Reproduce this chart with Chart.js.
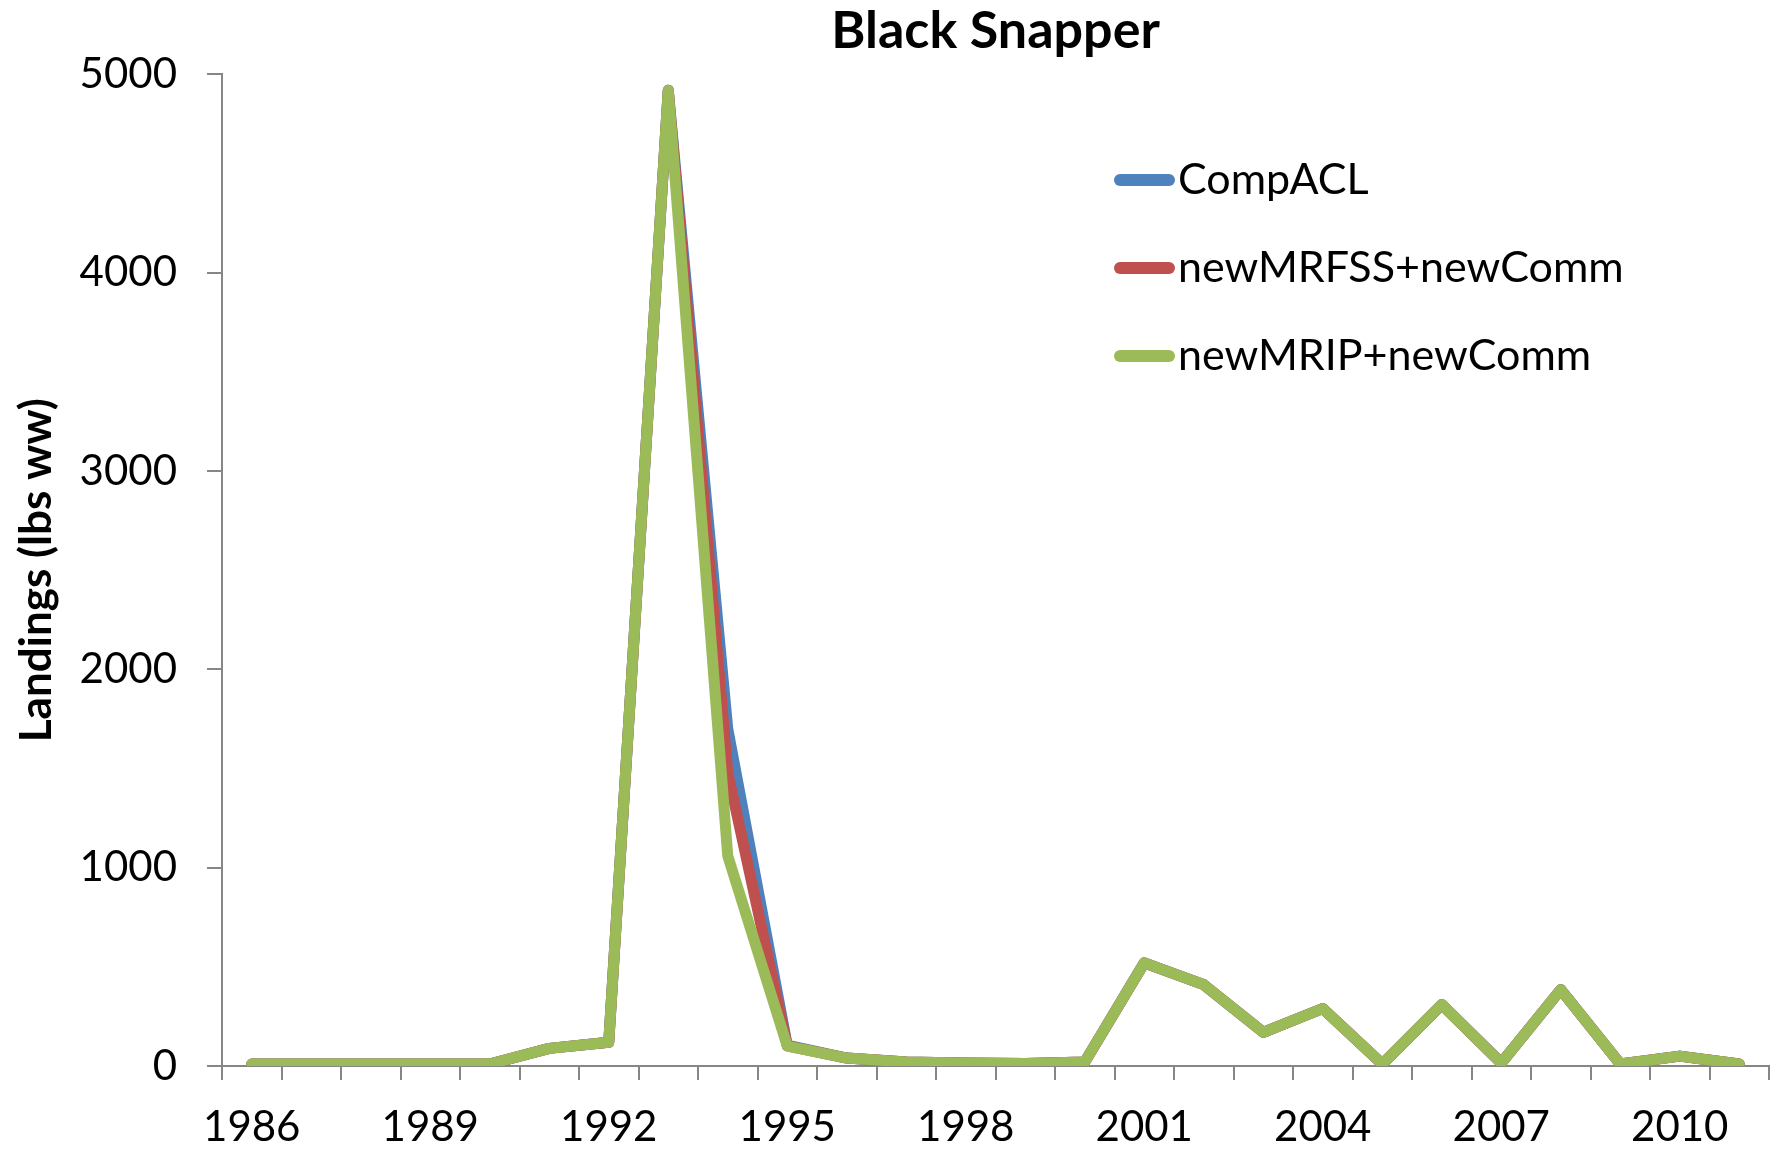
<!DOCTYPE html>
<html>
<head>
<meta charset="utf-8">
<title>Black Snapper</title>
<script src="https://cdn.jsdelivr.net/npm/chart.js@4.4.1/dist/chart.umd.min.js"></script>
<style>
  html, body { margin: 0; padding: 0; background: #ffffff; }
  #wrap { width: 1779px; height: 1150px; position: relative; }
</style>
</head>
<body>
<div id="wrap"><canvas id="landingsChart"></canvas></div>
<script>
// ---- Data ----
const years = ["1986", "1987", "1988", "1989", "1990", "1991", "1992", "1993", "1994", "1995",
  "1996", "1997", "1998", "1999", "2000", "2001", "2002", "2003", "2004", "2005",
  "2006", "2007", "2008", "2009", "2010", "2011"];

const compACL = [10, 10, 10, 10, 10, 89, 120, 4920, 1700, 105,
  40, 20, 15, 12, 20, 520, 410, 170, 290, 10,
  310, 15, 385, 10, 50, 10];

const newMRFSS = [10, 10, 10, 10, 10, 89, 120, 4920, 1480, 102,
  40, 20, 15, 12, 20, 520, 410, 170, 290, 10,
  310, 15, 385, 10, 50, 10];

const newMRIP = [10, 10, 10, 10, 10, 89, 120, 4920, 1060, 100,
  40, 20, 15, 12, 20, 520, 410, 170, 290, 10,
  310, 15, 385, 10, 50, 10];

const seriesNames = ["CompACL", "newMRFSS+newComm", "newMRIP+newComm"];
const yTicks = [0, 1000, 2000, 3000, 4000, 5000];

const FONT = "Lato";
const AXIS_GRAY = "#868686";

// ---- Legend drawn inside the plot, top right ----
const insideLegend = {
  id: "insideLegend",
  afterDraw(chart) {
    const ctx = chart.ctx;
    ctx.save();
    chart.data.datasets.forEach((ds, i) => {
      const y = 180 + i * 88;
      ctx.strokeStyle = ds.borderColor;
      ctx.lineWidth = 12;
      ctx.lineCap = "round";
      ctx.beginPath();
      ctx.moveTo(1120, y);
      ctx.lineTo(1169, y);
      ctx.stroke();

      ctx.fillStyle = "#000000";
      ctx.font = "43px " + FONT;
      ctx.textBaseline = "middle";
      ctx.textAlign = "left";
      ctx.fillText(ds.label, 1178, y);
    });
    ctx.restore();
  }
};

function makeDataset(label, data, color, order) {
  return {
    label: label,
    data: data,
    borderColor: color,
    backgroundColor: color,
    borderWidth: 11,
    borderJoinStyle: "round",
    borderCapStyle: "round",
    pointRadius: 0,
    tension: 0,
    fill: false,
    order: order, // green ends up on top
  };
}

new Chart(document.getElementById("landingsChart").getContext("2d"), {
  type: "line",
  data: {
    labels: years,
    datasets: [
      makeDataset(seriesNames[0], compACL, "#4F81BD", 2),
      makeDataset(seriesNames[1], newMRFSS, "#C0504D", 1),
      makeDataset(seriesNames[2], newMRIP, "#9BBB59", 0),
    ],
  },
  options: {
    responsive: true,
    maintainAspectRatio: false,
    animation: false,
    layout: { padding: { left: 0, right: 10, top: 0, bottom: 0 } },
    plugins: {
      legend: { display: false },
      tooltip: { enabled: false },
      title: {
        display: true,
        fullSize: false, // centre over the plot area, not the whole canvas
        text: "Black Snapper",
        color: "#000000",
        font: { family: FONT, size: 52, weight: "bold" },
        padding: { top: 0, bottom: 12 },
      },
    },
    scales: {
      x: {
        offset: true,
        border: { color: AXIS_GRAY, width: 2 },
        grid: {
          offset: true,
          drawOnChartArea: false,
          drawTicks: true,
          tickLength: 14,
          color: AXIS_GRAY,
          lineWidth: 2,
        },
        ticks: {
          autoSkip: false,
          maxRotation: 0,
          minRotation: 0,
          color: "#000000",
          padding: 22,
          font: { family: FONT, size: 42 },
          callback: function (value, index) {
            return index % 3 === 0 ? years[index] : "";
          },
        },
        afterFit: (scale) => { scale.height = 84; },
      },
      y: {
        min: yTicks[0],
        max: yTicks[yTicks.length - 1],
        border: { color: AXIS_GRAY, width: 2 },
        grid: {
          drawOnChartArea: false,
          drawTicks: true,
          tickLength: 15,
          color: AXIS_GRAY,
          lineWidth: 2,
        },
        afterBuildTicks: (scale) => {
          scale.ticks = yTicks.map(v => ({ value: v }));
        },
        ticks: {
          color: "#000000",
          padding: 30,
          font: { family: FONT, size: 42 },
          callback: (value) => String(value), // no thousands separator
        },
        title: {
          display: true,
          text: "Landings (lbs ww)",
          color: "#000000",
          font: { family: FONT, size: 44, weight: "bold" },
          padding: { top: 10, bottom: 0 },
        },
        afterFit: (scale) => { scale.width = 222; },
      },
    },
  },
  plugins: [insideLegend],
});
</script>
</body>
</html>
